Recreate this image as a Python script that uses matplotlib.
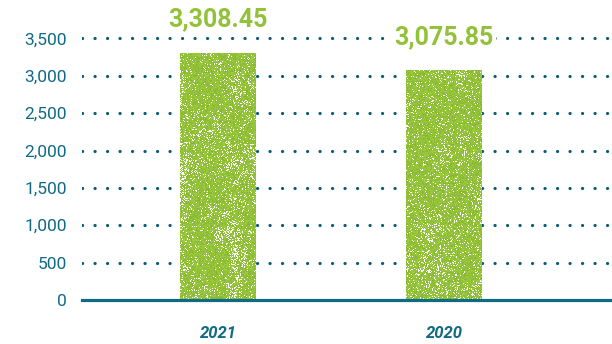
import numpy as np
import matplotlib.pyplot as plt
from matplotlib import colors as mcolors

plt.rcParams['lines.scale_dashes'] = False

# values
years = ['2021', '2020']
values = [3308.45, 3075.85]
value_labels = ['3,308.45', '3,075.85']
yticks = [0, 500, 1000, 1500, 2000, 2500, 3000, 3500]
ytick_labels = ['0', '500', '1,000', '1,500', '2,000', '2,500', '3,000', '3,500']

teal = '#0f6a86'
dot_teal = '#0b5c74'
green = '#93c23a'

fig = plt.figure(figsize=(6.12, 3.44), dpi=100)
ax = fig.add_axes([82/612, 44/344, 530/612, 299/344])

x = np.arange(len(years))
bars = ax.bar(x, values, width=0.336, color=green, zorder=2, linewidth=0)

# grainy fill for the bars
rng = np.random.default_rng(11)
base = np.array(mcolors.to_rgb(green))


def smooth_field(h, w, cy, cx):
    coarse = rng.random((h // cy + 2, w // cx + 2))
    yy = np.linspace(0, coarse.shape[0] - 1.001, h)
    xx = np.linspace(0, coarse.shape[1] - 1.001, w)
    y0 = yy.astype(int); x0 = xx.astype(int)
    fy = (yy - y0)[:, None]; fx = (xx - x0)[None, :]
    return (coarse[y0][:, x0] * (1 - fy) * (1 - fx) + coarse[y0 + 1][:, x0] * fy * (1 - fx)
            + coarse[y0][:, x0 + 1] * (1 - fy) * fx + coarse[y0 + 1][:, x0 + 1] * fy * fx)


for i, b in enumerate(bars):
    h, w = 250, 78
    c = 0.6 * smooth_field(h, w, 40, 20) + 0.4 * smooth_field(h, w, 8, 6)
    prob = 0.04 + 0.6 * c ** 3
    white = rng.random((h, w)) < prob
    shade = 0.92 + 0.16 * rng.random((h, w, 1))
    img = np.clip(base[None, None, :] * shade, 0, 1)
    img[white] = [1, 1, 1]
    im = ax.imshow(img, extent=(b.get_x(), b.get_x() + b.get_width(), 0, b.get_height()),
                   aspect='auto', zorder=3, interpolation='nearest')
    im.set_clip_path(b)

# dotted gridlines
for t in yticks[1:]:
    ax.axhline(t, color=dot_teal, linewidth=2.3, linestyle=(0, (0.1, 8.9)),
               dash_capstyle='round', zorder=1)
ax.axhline(0, color=teal, linewidth=2.3, zorder=4, clip_on=False)

# value labels above bars
for xi, v, lab in zip(x, values, value_labels):
    ax.annotate(lab, (xi, v), xytext=(0, 24), textcoords='offset points',
                ha='center', va='center', fontsize=18, fontweight='bold',
                color=green, family='Roboto', zorder=5,
                bbox=dict(facecolor='white', edgecolor='none', pad=2))

ax.set_xlim(-0.602, 1.743)
ax.set_ylim(0, 4000)
ax.set_yticks(yticks)
ax.set_yticklabels(ytick_labels, fontsize=12.5, color=teal, family='Roboto')
ax.set_xticks(x)
ax.set_xticklabels(years, fontsize=12, color=teal, family='Roboto',
                   fontstyle='italic', fontweight='bold')
ax.tick_params(axis='y', length=0, pad=11)
ax.tick_params(axis='x', length=0, pad=19)
for s in ax.spines.values():
    s.set_visible(False)

fig.savefig('out.png', dpi=100)
